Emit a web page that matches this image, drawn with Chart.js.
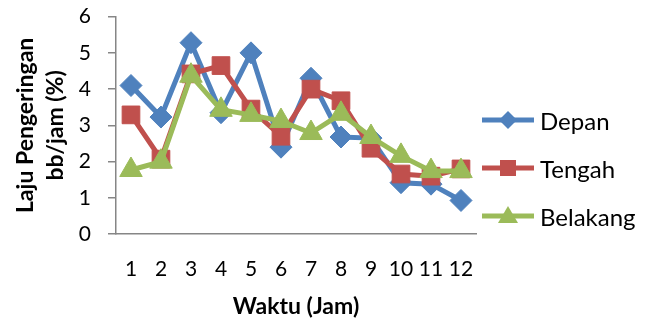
<!DOCTYPE html>
<html>
<head>
<meta charset="utf-8">
<script src="https://cdn.jsdelivr.net/npm/chart.js@4"></script>
<style>
  html, body { margin: 0; padding: 0; background: #fff; }
  #wrap { position: relative; width: 654px; height: 324px; }
  #legend { position: absolute; left: 482px; top: 106px; font-family: Lato, sans-serif; font-size: 24px; color: #000; }
  #legend .item { display: flex; align-items: center; height: 28px; margin-bottom: 20px; }
  #legend canvas { margin-right: 6px; }
</style>
</head>
<body>
<div id="wrap"><canvas id="chart"></canvas><div id="legend"></div></div>
<script>
// Data
const hours = ['1', '2', '3', '4', '5', '6', '7', '8', '9', '10', '11', '12'];
const depan = [4.1, 3.23, 5.28, 3.35, 5.0, 2.4, 4.3, 2.68, 2.65, 1.42, 1.38, 0.93];
const tengah = [3.29, 2.07, 4.42, 4.65, 3.45, 2.7, 4.0, 3.68, 2.37, 1.66, 1.6, 1.8];
const belakang = [1.77, 2.0, 4.37, 3.43, 3.29, 3.12, 2.79, 3.32, 2.68, 2.16, 1.74, 1.74];
const yTicks = [0, 1, 2, 3, 4, 5, 6];

const blue = '#4F81BD';
const red = '#C0504D';
const green = '#9BBB59';

// small canvases for the legend: line with marker in the middle
function legendIcon(color, style) {
    const c = document.createElement('canvas');
    c.width = 52;
    c.height = 26;
    const g = c.getContext('2d');
    g.strokeStyle = color;
    g.lineWidth = 5;
    g.beginPath();
    g.moveTo(0, 13);
    g.lineTo(52, 13);
    g.stroke();
    g.fillStyle = color;
    g.beginPath();
    if (style === 'diamond') {
        g.moveTo(26, 4); g.lineTo(35, 13); g.lineTo(26, 22); g.lineTo(17, 13);
    } else if (style === 'square') {
        g.rect(18, 5, 16, 16);
    } else {
        g.moveTo(26, 3); g.lineTo(36, 20); g.lineTo(16, 20);
    }
    g.closePath();
    g.fill();
    return c;
}

const tickFont = { family: 'Lato', size: 21 };
const titleFont = { family: 'Lato', size: 23, weight: 'bold' };

const ctx = document.getElementById('chart').getContext('2d');
const myChart = new Chart(ctx, {
    type: 'line',
    data: {
        labels: hours,
        datasets: [
            {
                label: 'Depan',
                data: depan,
                borderColor: blue,
                backgroundColor: blue,
                borderWidth: 5,
                pointStyle: 'rectRot',
                pointRadius: 11,
                pointBorderWidth: 1,
                order: 3
            },
            {
                label: 'Tengah',
                data: tengah,
                borderColor: red,
                backgroundColor: red,
                borderWidth: 5,
                pointStyle: 'rect',
                pointRadius: 12.5,
                pointBorderWidth: 1,
                order: 2
            },
            {
                label: 'Belakang',
                data: belakang,
                borderColor: green,
                backgroundColor: green,
                borderWidth: 5,
                pointStyle: 'triangle',
                pointRadius: 13,
                pointBorderWidth: 1,
                order: 1
            }
        ]
    },
    options: {
        responsive: true,
        maintainAspectRatio: false,
        animation: false,
        layout: { padding: { top: 0, left: 11, right: 178, bottom: 4 } },
        plugins: {
            tooltip: { enabled: false },
            legend: { display: false }
        },
        scales: {
            x: {
                offset: true,
                grid: { display: false, drawTicks: false },
                border: { display: true, color: '#868686', width: 1.5 },
                ticks: { color: '#000', font: tickFont, padding: 22, maxRotation: 0, autoSkip: false },
                title: { display: true, text: 'Waktu (Jam)', color: '#000', font: titleFont, padding: { top: -11, bottom: 0 } }
            },
            y: {
                min: 0,
                max: 6,
                afterBuildTicks: axis => { axis.ticks = yTicks.map(v => ({ value: v })); },
                // long tick space, but only the 8px next to the axis is drawn
                grid: {
                    drawOnChartArea: false, drawTicks: true, tickLength: 21,
                    tickBorderDash: [8, 50], tickBorderDashOffset: 45,
                    color: '#868686', lineWidth: 1.5
                },
                border: { display: true, color: '#868686', width: 1.5 },
                ticks: { color: '#000', font: tickFont, padding: 4 },
                title: {
                    display: true,
                    text: ['Laju Pengeringan', 'bb/jam (%)'],
                    color: '#000',
                    font: { family: 'Lato', size: 23, weight: 'bold', lineHeight: 1.3 },
                    padding: { top: 0, bottom: 4 }
                }
            }
        }
    }
});

// HTML legend built from the datasets
const markerStyles = ['diamond', 'square', 'triangle'];
const legendBox = document.getElementById('legend');
myChart.data.datasets.forEach((ds, i) => {
    const item = document.createElement('div');
    item.className = 'item';
    item.appendChild(legendIcon(ds.borderColor, markerStyles[i]));
    const label = document.createElement('span');
    label.textContent = ds.label;
    item.appendChild(label);
    legendBox.appendChild(item);
});
</script>
</body>
</html>
